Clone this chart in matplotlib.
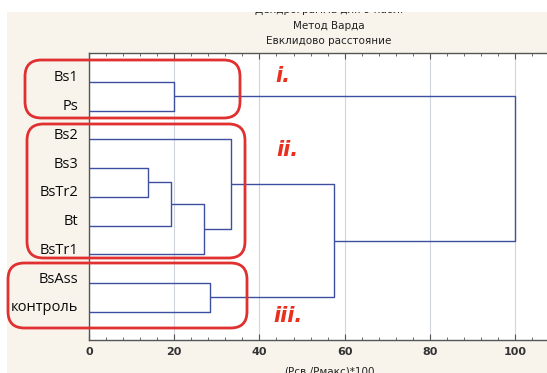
import matplotlib
matplotlib.use("Agg")
import matplotlib.pyplot as plt
import matplotlib.transforms as mtransforms
from matplotlib.patches import FancyBboxPatch, Rectangle

leaves = ["Bs1", "Ps", "Bs2", "Bs3", "BsTr2", "Bt", "BsTr1", "BsAss", "контроль"]
# merges: (left member, right member, linkage distance); members are leaf names or merge indices (ints)
merge_left = ["Bs1", "Bs3", 1, 2, "Bs2", "BsAss", 4, 0]
merge_right = ["Ps", "BsTr2", "Bt", "BsTr1", 3, "контроль", 5, 6]
merge_height = [20.0, 13.9, 19.3, 27.0, 33.3, 28.3, 57.6, 100.0]
x_ticks = [0, 20, 40, 60, 80, 100]
group_labels = ["i.", "ii.", "iii."]

W, H = 547, 373
fig = plt.figure(figsize=(W / 100, H / 100), dpi=100)
fig.patch.set_facecolor("#f8f4ec")
# white strips at top and left of the screenshot
fig.patches.append(Rectangle((0, 1 - 12 / H), 1, 12 / H, transform=fig.transFigure,
                             facecolor="white", edgecolor="none", zorder=5))
fig.patches.append(Rectangle((0, 0), 7 / W, 1, transform=fig.transFigure,
                             facecolor="white", edgecolor="none", zorder=0))

ax_l, ax_r = 89 / W, 1.0
ax_b, ax_t = 1 - 340 / H, 1 - 53 / H
ax = fig.add_axes([ax_l, ax_b, ax_r - ax_l, ax_t - ax_b])
ax.set_facecolor("white")

lc = "#3d4f9f"
ypos = {name: i for i, name in enumerate(leaves)}
node_y, node_x = [], []


def pos(m):
    if isinstance(m, int):
        return node_x[m], node_y[m]
    return 0.0, ypos[m]


for a, b, h in zip(merge_left, merge_right, merge_height):
    xa, ya = pos(a)
    xb, yb = pos(b)
    ax.plot([xa, h, h, xb], [ya, ya, yb, yb], color=lc, lw=1.0, solid_capstyle="butt", zorder=3)
    node_x.append(h)
    node_y.append((ya + yb) / 2)

ax.set_xlim(0, 107.5)
ax.set_ylim(len(leaves) - 1 + 0.98, -1.0)
ax.set_xticks(x_ticks)
ax.set_xticks([t for t in range(0, 108, 4)], minor=True)
ax.tick_params(axis="x", which="both", direction="in", top=True, bottom=True,
               colors="#555555", labelcolor="#333333", labelsize=8, pad=5)
ax.tick_params(axis="x", which="major", length=4, width=0.8)
ax.tick_params(axis="x", which="minor", length=2, width=0.6)
for lab in ax.get_xticklabels():
    lab.set_fontweight("semibold")
ax.set_yticks(range(len(leaves)))
ax.set_yticklabels(leaves, fontsize=10.5, family=["Open Sans", "DejaVu Sans"], color="#0a0a0a")
ax.tick_params(axis="y", length=0, pad=8)
offset = mtransforms.ScaledTranslation(0, 6 / 100, fig.dpi_scale_trans)
for lab in ax.get_yticklabels():
    lab.set_transform(lab.get_transform() + offset)
ax.grid(axis="x", which="major", color="#d0d4dc", lw=0.8)
ax.set_axisbelow(True)
for s in ["left", "bottom", "top"]:
    ax.spines[s].set_color("#555555")
    ax.spines[s].set_linewidth(1.0)
ax.spines["right"].set_visible(False)

# titles
tkw = dict(ha="center", va="center", fontsize=7.5, color="#222222", zorder=1)
fig.text(329 / W, 1 - 10 / H, "Дендрограмма для 9 набл.", **tkw)
fig.text(329 / W, 1 - 26 / H, "Метод Варда", **tkw)
fig.text(329 / W, 1 - 41 / H, "Евклидово расстояние", **tkw)
fig.text(329 / W, 1 - 371 / H, "(Рсв./Рмакс)*100", **tkw)

# red rounded group boxes
boxes = [(25, 60, 240, 118), (27, 124, 245, 258), (8, 263, 247, 328)]
for (x0, y0, x1, y1) in boxes:
    p = FancyBboxPatch((x0 / W, 1 - y1 / H), (x1 - x0) / W, (y1 - y0) / H,
                       boxstyle="round,pad=0,rounding_size=0.03",
                       transform=fig.transFigure, facecolor="none",
                       edgecolor="#e03030", lw=2.0, zorder=10, mutation_aspect=W / H)
    fig.patches.append(p)

label_pos = [(275, 76), (276, 150), (273, 316)]
for txt, (x, y) in zip(group_labels, label_pos):
    fig.text(x / W, 1 - y / H, txt, ha="left", va="center", fontsize=15, color="#e8301e",
             fontweight="bold", fontstyle="italic")

fig.savefig("out.png", dpi=100, facecolor=fig.get_facecolor())
